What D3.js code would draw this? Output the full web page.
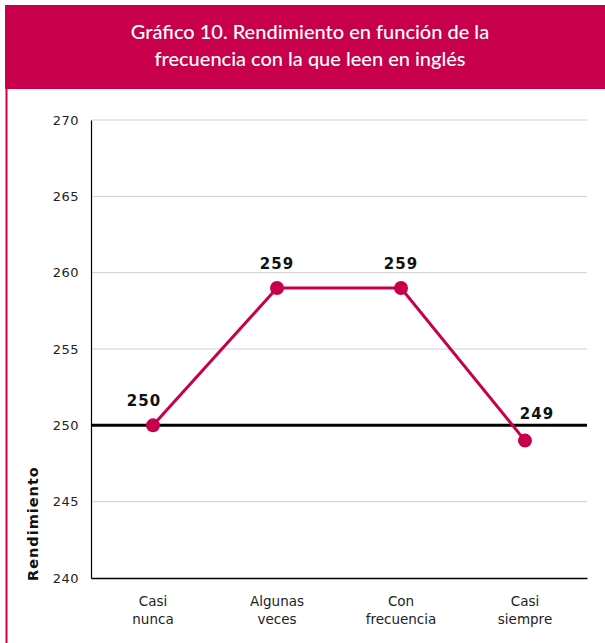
<!DOCTYPE html>
<html>
<head>
<meta charset="utf-8">
<title>Gráfico 10</title>
<script src="https://d3js.org/d3.v7.min.js"></script>
<style>
  body { margin: 0; background: #fff; }
</style>
</head>
<body>
<div id="wrapper"></div>
<script>
// data
const categories = [["Casi", "nunca"], ["Algunas", "veces"], ["Con", "frecuencia"], ["Casi", "siempre"]];
const values = [250, 259, 259, 249];
const yTicks = [240, 245, 250, 255, 260, 265, 270];
const referenceValue = 250;
const titleLines = ["Gráfico 10. Rendimiento en función de la", "frecuencia con la que leen en inglés"];

const crimson = "#c8004b";

const dimensions = {
  width: 605,
  height: 643,
  margin: { top: 120, right: 18, bottom: 65, left: 91 }
};
dimensions.boundedWidth = dimensions.width - dimensions.margin.left - dimensions.margin.right;
dimensions.boundedHeight = dimensions.height - dimensions.margin.top - dimensions.margin.bottom;

const svg = d3.select("#wrapper").append("svg")
  .attr("width", dimensions.width)
  .attr("height", dimensions.height);

// header band + left border
svg.append("rect").attr("x", 5).attr("y", 5).attr("width", 600).attr("height", 84).attr("fill", crimson);
svg.append("line").attr("x1", 6.5).attr("x2", 6.5).attr("y1", 89).attr("y2", 643)
  .attr("stroke", crimson).attr("stroke-width", 2);

svg.append("text")
  .attr("x", 310).attr("y", 39)
  .attr("text-anchor", "middle")
  .attr("fill", "#fff")
  .style("font-family", "Lato, 'Open Sans', sans-serif")
  .style("font-size", "20px")
  .style("font-weight", "500")
  .selectAll("tspan").data(titleLines).join("tspan")
  .attr("x", 310).attr("dy", (d, i) => i ? 27 : 0)
  .text(d => d);

const bounds = svg.append("g")
  .attr("transform", `translate(${dimensions.margin.left},${dimensions.margin.top})`);

const xScale = d3.scaleBand().domain(d3.range(categories.length)).range([0, dimensions.boundedWidth]);
const yScale = d3.scaleLinear().domain([240, 270]).range([dimensions.boundedHeight, 0]);

// gridlines
bounds.append("g").selectAll("line").data(yTicks.filter(t => t !== 240)).join("line")
  .attr("x1", 0).attr("x2", dimensions.boundedWidth)
  .attr("y1", d => yScale(d)).attr("y2", d => yScale(d))
  .attr("stroke", "#cfcfcf").attr("stroke-width", 1);

// y axis
const yAxis = bounds.append("g").call(d3.axisLeft(yScale).tickValues(yTicks).tickSize(0).tickPadding(12));
yAxis.select(".domain").attr("stroke", "#000").attr("stroke-width", 1.2);
yAxis.selectAll("text")
  .style("font-family", "'DejaVu Sans', sans-serif")
  .style("font-size", "13px")
  .style("letter-spacing", "0.5px")
  .attr("fill", "#222");

// x axis
const xAxis = bounds.append("g")
  .attr("transform", `translate(0,${dimensions.boundedHeight})`)
  .call(d3.axisBottom(xScale).tickSize(0).tickFormat(""));
xAxis.select(".domain").attr("stroke", "#000").attr("stroke-width", 1.5);
xAxis.selectAll(".tick").append("text")
  .attr("text-anchor", "middle")
  .attr("fill", "#222")
  .style("font-family", "'DejaVu Sans', sans-serif")
  .style("font-size", "13.5px")
  .selectAll("tspan").data(d => categories[d]).join("tspan")
  .attr("x", 0).attr("y", (d, i) => 28 + i * 18)
  .text(d => d);

// reference line at 250
bounds.append("line")
  .attr("x1", 0).attr("x2", dimensions.boundedWidth)
  .attr("y1", yScale(referenceValue)).attr("y2", yScale(referenceValue))
  .attr("stroke", "#000").attr("stroke-width", 3);

const xAccessor = (d, i) => xScale(i) + xScale.bandwidth() / 2;

const lineGenerator = d3.line().x((d, i) => xAccessor(d, i)).y(d => yScale(d));
bounds.append("path").attr("d", lineGenerator(values))
  .attr("fill", "none").attr("stroke", crimson).attr("stroke-width", 3);

bounds.append("g").selectAll("circle").data(values).join("circle")
  .attr("cx", (d, i) => xAccessor(d, i))
  .attr("cy", d => yScale(d))
  .attr("r", 7)
  .attr("fill", crimson);

// value labels (nudged away from the line at the ends)
const labelDx = [-9, 0, 0, 12];
bounds.append("g").selectAll("text").data(values).join("text")
  .attr("x", (d, i) => xAccessor(d, i) + labelDx[i])
  .attr("y", (d, i) => yScale(d) - (i === 3 ? 22 : 19))
  .attr("text-anchor", "middle")
  .attr("fill", "#111")
  .style("font-family", "'DejaVu Sans', sans-serif")
  .style("font-weight", "bold")
  .style("font-size", "15px")
  .style("letter-spacing", "1px")
  .text(d => d);

// y title
svg.append("text")
  .attr("transform", "translate(38,581) rotate(-90)")
  .attr("text-anchor", "start")
  .attr("fill", "#111")
  .style("font-family", "'DejaVu Sans', sans-serif")
  .style("font-weight", "bold")
  .style("font-size", "14.5px")
  .style("letter-spacing", "1px")
  .text("Rendimiento");
</script>
</body>
</html>
